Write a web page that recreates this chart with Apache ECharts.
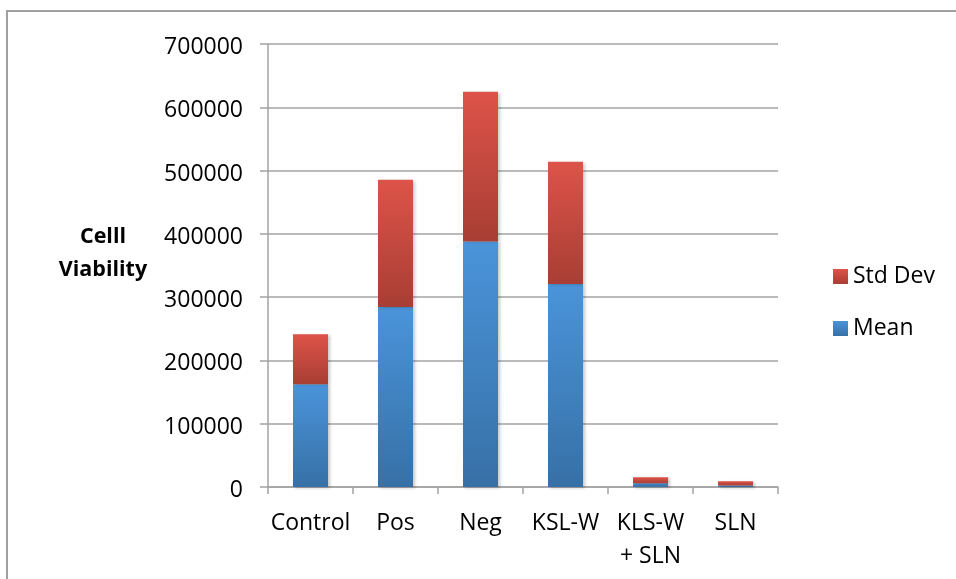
<!DOCTYPE html>
<html>
<head>
<meta charset="utf-8">
<script src="https://cdn.jsdelivr.net/npm/echarts@6/dist/echarts.min.js"></script>
<style>html,body{margin:0;padding:0;background:#fff}#chart{width:956px;height:579px}</style>
</head>
<body>
<div id="chart"></div>
<script>
const categories = ['Control', 'Pos', 'Neg', 'KSL-W', 'KLS-W\n+ SLN', 'SLN'];
const meanValues = [162500, 284300, 388000, 320700, 5800, 2500];
const stdDevValues = [79000, 201000, 236400, 193100, 9500, 6500];
const yTicks = { min: 0, max: 700000, interval: 100000 };
const yTitle = 'Celll\nViability';

const FONT = '"Open Sans", "Liberation Sans", sans-serif';
const GRAY = '#a3a3a3';

const chart = echarts.init(document.getElementById('chart'), null, { renderer: 'canvas' });
function grad(top, bottom) {
  return { type: 'linear', x: 0, y: 0, x2: 0, y2: 1,
    colorStops: [{ offset: 0, color: top }, { offset: 1, color: bottom }] };
}
const shadow = { shadowBlur: 3, shadowColor: 'rgba(0,0,0,0.22)', shadowOffsetX: 2, shadowOffsetY: 1 };

chart.setOption({
  animation: false,
  backgroundColor: '#fff',
  grid: { left: 268, right: 178, top: 44, bottom: 92, containLabel: false },
  legend: {
    data: ['Std Dev', 'Mean'],
    orient: 'vertical',
    left: 828, top: 257,
    icon: 'rect',
    itemWidth: 15, itemHeight: 15,
    itemGap: 23,
    textStyle: { fontFamily: FONT, fontSize: 23, color: '#000', lineHeight: 29 }
  },
  graphic: [
    { type: 'rect', shape: { x: 7, y: 11, width: 1200, height: 1200 },
      style: { fill: 'none', stroke: '#a0a0a0', lineWidth: 2 }, silent: true, z: -1 },
    { type: 'text', x: 103, y: 220,
      style: { text: yTitle, fontFamily: '"Open Sans", sans-serif', fontWeight: 'bold',
        fontSize: 21.5, lineHeight: 33, fill: '#000', textAlign: 'center' } }
  ],
  xAxis: {
    type: 'category',
    data: categories,
    axisLine: { lineStyle: { color: GRAY, width: 1.5 } },
    axisTick: { show: true, length: 7, lineStyle: { color: GRAY, width: 1.5 } },
    axisLabel: { fontFamily: FONT, fontSize: 23, color: '#000', margin: 20, lineHeight: 33, interval: 0 }
  },
  yAxis: {
    type: 'value',
    min: yTicks.min, max: yTicks.max, interval: yTicks.interval,
    axisLine: { show: true, lineStyle: { color: GRAY, width: 1.5 } },
    axisTick: { show: true, length: 8, lineStyle: { color: GRAY, width: 1.5 } },
    splitLine: { lineStyle: { color: GRAY, width: 1.5 } },
    axisLabel: { margin: 25,
      formatter: function (v) { return '{a|' + v + '}'; },
      rich: { a: { fontFamily: FONT, fontSize: 23, color: '#000', lineHeight: 31, padding: [7, 0, 0, 0] } } }
  },
  series: [
    { name: 'Mean', type: 'bar', stack: 'total', barWidth: 35, data: meanValues,
      itemStyle: Object.assign({ color: grad('#4a94da', '#3770a6') }, shadow) },
    { name: 'Std Dev', type: 'bar', stack: 'total', barWidth: 35, data: stdDevValues,
      itemStyle: Object.assign({ color: grad('#dd5349', '#a83e34') }, shadow) }
  ]
});
</script>
</body>
</html>
